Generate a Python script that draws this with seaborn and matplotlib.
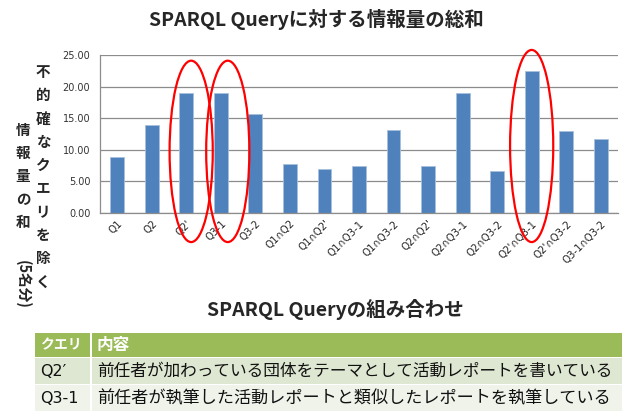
import numpy as np
import matplotlib
matplotlib.use("Agg")
import matplotlib.pyplot as plt
from matplotlib.patches import Ellipse, Rectangle
from matplotlib.ticker import FixedLocator, FormatStrFormatter
import seaborn as sns

# Data
queries = ["Q1", "Q2", "Q2'", "Q3-1", "Q3-2",
           "Q1∩Q2", "Q1∩Q2'", "Q1∩Q3-1", "Q1∩Q3-2", "Q2∩Q2'",
           "Q2∩Q3-1", "Q2∩Q3-2", "Q2'∩Q3-1", "Q2'∩Q3-2", "Q3-1∩Q3-2"]
info_sum = [8.9, 14.0, 19.0, 19.0, 15.6,
            7.8, 7.0, 7.4, 13.2, 7.4,
            19.0, 6.6, 22.4, 12.9, 11.7]
y_ticks = [0, 5, 10, 15, 20, 25]

# Highlighted queries (red ellipses)
highlighted = ["Q2'", "Q3-1", "Q2'∩Q3-1"]

table_header = ["クエリ", "内容"]
table_keys = ["Q2′", "Q3-1"]
table_desc = ["前任者が加わっている団体をテーマとして活動レポートを書いている",
              "前任者が執筆した活動レポートと類似したレポートを執筆している"]

title = "SPARQL Queryに対する情報量の総和"
subtitle = "SPARQL Queryの組み合わせ"
ylabel_outer = "情報量の和"
ylabel_outer_tail = "(5名分)"
ylabel_inner = "不的確なクエリを除く"

sns.set_style("white")
plt.rcParams["font.family"] = ["Noto Sans CJK JP", "DejaVu Sans"]

W, H = 622, 411
fig = plt.figure(figsize=(W / 100, H / 100), dpi=100)


def fx(px):
    return px / W


def fy(py):
    return 1 - py / H


# Main chart
ax = fig.add_axes([fx(100), fy(213), fx(618) - fx(100), fy(55) - fy(213)])
sns.barplot(x=queries, y=info_sum, color="#4F81BD", saturation=1, width=0.4,
            edgecolor="#A7C0DE", linewidth=0.6, ax=ax)
ax.set_xlim(-0.5, len(queries) - 0.5)
ax.set_ylim(0, 25)
ax.set_yticks(y_ticks)
ax.yaxis.set_major_formatter(FormatStrFormatter("%.2f"))
ax.yaxis.grid(True, color="#8C8C8C", linewidth=0.9)
ax.set_axisbelow(True)
for s in ["top", "right"]:
    ax.spines[s].set_visible(False)
for s in ["left", "bottom"]:
    ax.spines[s].set_color("#8C8C8C")
    ax.spines[s].set_linewidth(0.9)
ax.tick_params(axis="y", direction="out", length=4, color="#8C8C8C",
               labelsize=7, pad=3, labelcolor="#333333")
ax.tick_params(axis="x", which="major", length=0, labelsize=7.3, pad=4,
               labelcolor="#222222")
ax.xaxis.set_minor_locator(FixedLocator(np.arange(-0.5, len(queries), 1)))
ax.tick_params(axis="x", which="minor", direction="out", length=4,
               color="#8C8C8C")
for lab in ax.get_xticklabels():
    lab.set_rotation(45)
    lab.set_ha("right")
    lab.set_rotation_mode("anchor")
    lab.set_family("DejaVu Sans")
for lab in ax.get_yticklabels():
    lab.set_family("DejaVu Sans")
ax.set_xlabel("")
ax.set_ylabel("")

# Red ellipses around highlighted bars
ellipse_dx = {"Q2'": 0.14, "Q3-1": 0.2, "Q2'∩Q3-1": 0.0}
ellipse_top = {"Q2'": 24.1, "Q3-1": 24.1, "Q2'∩Q3-1": 25.8}
for q in highlighted:
    i = queries.index(q)
    top, bottom = ellipse_top[q], -4.6
    ax.add_patch(Ellipse((i + ellipse_dx[q], (top + bottom) / 2), 1.25,
                         top - bottom, fill=False, edgecolor="red", lw=1.6,
                         clip_on=False, zorder=5))

# Titles
fig.text(fx(316), fy(20), title, ha="center", va="center", fontsize=14,
         fontweight="bold")
fig.text(fx(335), fy(310), subtitle, ha="center", va="center", fontsize=14,
         fontweight="bold")

# Vertical stacked y labels
for k, ch in enumerate(ylabel_outer):
    fig.text(fx(23), fy(130 + k * 23), ch, ha="center", va="center",
             fontsize=10.5, fontweight="bold")
fig.text(fx(23), fy(284), ylabel_outer_tail, ha="center", va="center",
         fontsize=10.5, fontweight="bold", rotation=-90)
for k, ch in enumerate(ylabel_inner):
    fig.text(fx(43), fy(72 + k * 23.3), ch, ha="center", va="center",
             fontsize=10.5, fontweight="bold")

# Table
tax = fig.add_axes([0, 0, 1, 1])
tax.set_xlim(0, W)
tax.set_ylim(H, 0)
tax.axis("off")
rows_y = [(333, 357), (358, 384), (385, 411)]
row_colors = ["#9BBB59", "#DEE7D1", "#EFF3EA"]
col_x = [(35, 90), (92, 622)]
desc_sizes = [12.0, 12.3]
for (y0, y1), c in zip(rows_y, row_colors):
    for (x0, x1) in col_x:
        tax.add_patch(Rectangle((x0, y0), x1 - x0, y1 - y0, facecolor=c,
                                edgecolor="none"))
tax.text(40, (rows_y[0][0] + rows_y[0][1]) / 2, table_header[0], color="white",
         fontsize=10, fontweight="bold", va="center", ha="left")
tax.text(97, (rows_y[0][0] + rows_y[0][1]) / 2, table_header[1], color="white",
         fontsize=12, fontweight="bold", va="center", ha="left")
for (y0, y1), key, desc, fs in zip(rows_y[1:], table_keys, table_desc,
                                   desc_sizes):
    tax.text(40, (y0 + y1) / 2, key, fontsize=11.5, va="center", ha="left",
             color="#111111", family=["DejaVu Sans"])
    tax.text(97, (y0 + y1) / 2, desc, fontsize=fs, va="center", ha="left",
             color="#111111")

fig.savefig("out.png", dpi=100)
